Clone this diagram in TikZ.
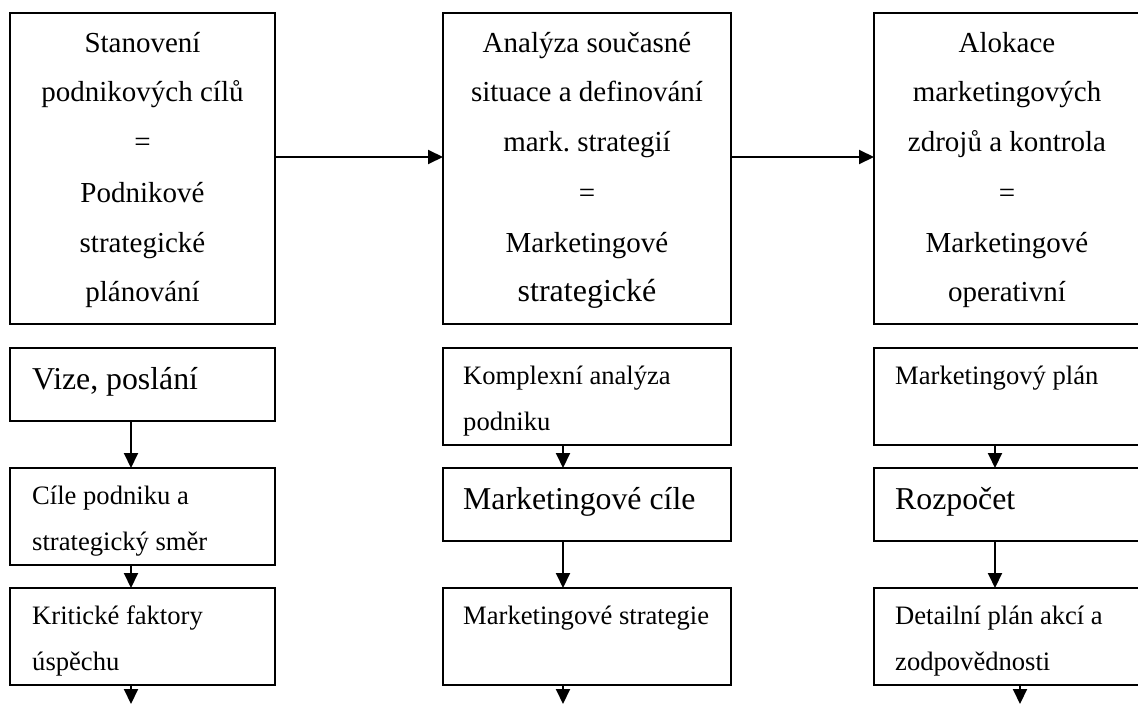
\documentclass[tikz,border=0pt]{standalone}
\usepackage{fontspec}
\setmainfont{Liberation Serif}
\usetikzlibrary{arrows.meta}
\frenchspacing

% stacked text lines, baseline of the block = baseline of the first line
\newcommand\centerlines[1]{\begin{tabular}[t]{@{}c@{}}#1\end{tabular}}
\newcommand\leftlines[1]{\begin{tabular}[t]{@{}l@{}}#1\end{tabular}}

\begin{document}
\begin{tikzpicture}[x=1pt,y=-1pt,
  box/.style={draw, rectangle, line width=2.1pt, inner sep=0pt, outer sep=0pt},
  toptext/.style={inner sep=0pt, anchor=base, font=\fontsize{29}{50}\selectfont},
  smalltext/.style={inner sep=0pt, anchor=base west, font=\fontsize{26.6}{46}\selectfont},
  bigtext/.style={inner sep=0pt, anchor=base west, font=\fontsize{31.8}{40}\selectfont},
  arr/.style={line width=2pt, -{Triangle[length=15pt,width=14pt]}}
]
\useasboundingbox (0,0) rectangle (1138,704);
\clip (0,0) rectangle (1138,704);

% ---- upper row: the three planning levels
\node[box, minimum width=265pt, minimum height=311pt] (plan) at (142.5,168.5) {};
\node[box, minimum width=288pt, minimum height=311pt] (anal) at (587,168.5) {};
\node[box, minimum width=266pt, minimum height=311pt] (alok) at (1007,168.5) {};

\node[toptext] (planT) at (142.5,52)
  {\centerlines{Stanovení\\podnikových cílů\\=\\Podnikové\\strategické\\plánování}};
\node[toptext] (analT) at (587,52)
  {\centerlines{Analýza současné\\situace a definování\\mark.\ strategií\\=\\Marketingové\\{\fontsize{32}{50}\selectfont strategické}}};
\node[toptext] (alokT) at (1007,52)
  {\centerlines{Alokace\\marketingových\\zdrojů a kontrola\\=\\Marketingové\\operativní}};

\draw[arr] ([yshift=11.5pt]plan.east) -- ([yshift=11.5pt]anal.west);
\draw[arr] ([yshift=11.5pt]anal.east) -- ([yshift=11.5pt]alok.west);

% ---- left column
\node[box, minimum width=265pt, minimum height=73pt] (vize) at (142.5,384.5) {};
\node[box, minimum width=265pt, minimum height=97pt] (cile) at (142.5,516.5) {};
\node[box, minimum width=265pt, minimum height=97pt] (krit) at (142.5,636.5) {};
\node[bigtext] (vizeT) at (32,389) {Vize, poslání};
\node[smalltext] (cileT) at (32,504) {\leftlines{Cíle podniku a\\strategický směr}};
\node[smalltext] (kritT) at (32,624) {\leftlines{Kritické faktory\\úspěchu}};

% ---- middle column
\node[box, minimum width=288pt, minimum height=97pt] (komp) at (587,396.5) {};
\node[box, minimum width=288pt, minimum height=73pt] (mcil) at (587,504.5) {};
\node[box, minimum width=288pt, minimum height=97pt] (mstr) at (587,636.5) {};
\node[smalltext] (kompT) at (463,384) {\leftlines{Komplexní analýza\\podniku}};
\node[bigtext] (mcilT) at (463,509) {Marketingové cíle};
\node[smalltext] (mstrT) at (463,624) {Marketingové strategie};

% ---- right column
\node[box, minimum width=266pt, minimum height=97pt] (mpla) at (1007,396.5) {};
\node[box, minimum width=266pt, minimum height=73pt] (rozp) at (1007,504.5) {};
\node[box, minimum width=266pt, minimum height=97pt] (deta) at (1007,636.5) {};
\node[smalltext] (mplaT) at (895,384) {Marketingový plán};
\node[bigtext] (rozpT) at (895,509) {Rozpočet};
\node[smalltext] (detaT) at (895,624) {\leftlines{Detailní plán akcí a\\zodpovědnosti}};

% ---- vertical flow
\coordinate (endL) at (131,704);
\coordinate (endM) at (563,704);
\coordinate (endR) at (1020,704);

\draw[arr] ([xshift=-11.5pt]vize.south) -- ([xshift=-11.5pt]cile.north);
\draw[arr] ([xshift=-11.5pt]cile.south) -- ([xshift=-11.5pt]krit.north);
\draw[arr] ([xshift=-11.5pt]krit.south) -- (endL);

\draw[arr] ([xshift=-24pt]komp.south) -- ([xshift=-24pt]mcil.north);
\draw[arr] ([xshift=-24pt]mcil.south) -- ([xshift=-24pt]mstr.north);
\draw[arr] ([xshift=-24pt]mstr.south) -- (endM);

\draw[arr] ([xshift=-12pt]mpla.south) -- ([xshift=-12pt]rozp.north);
\draw[arr] ([xshift=-12pt]rozp.south) -- ([xshift=-12pt]deta.north);
\draw[arr] ([xshift=13pt]deta.south) -- (endR);
\end{tikzpicture}
\end{document}
